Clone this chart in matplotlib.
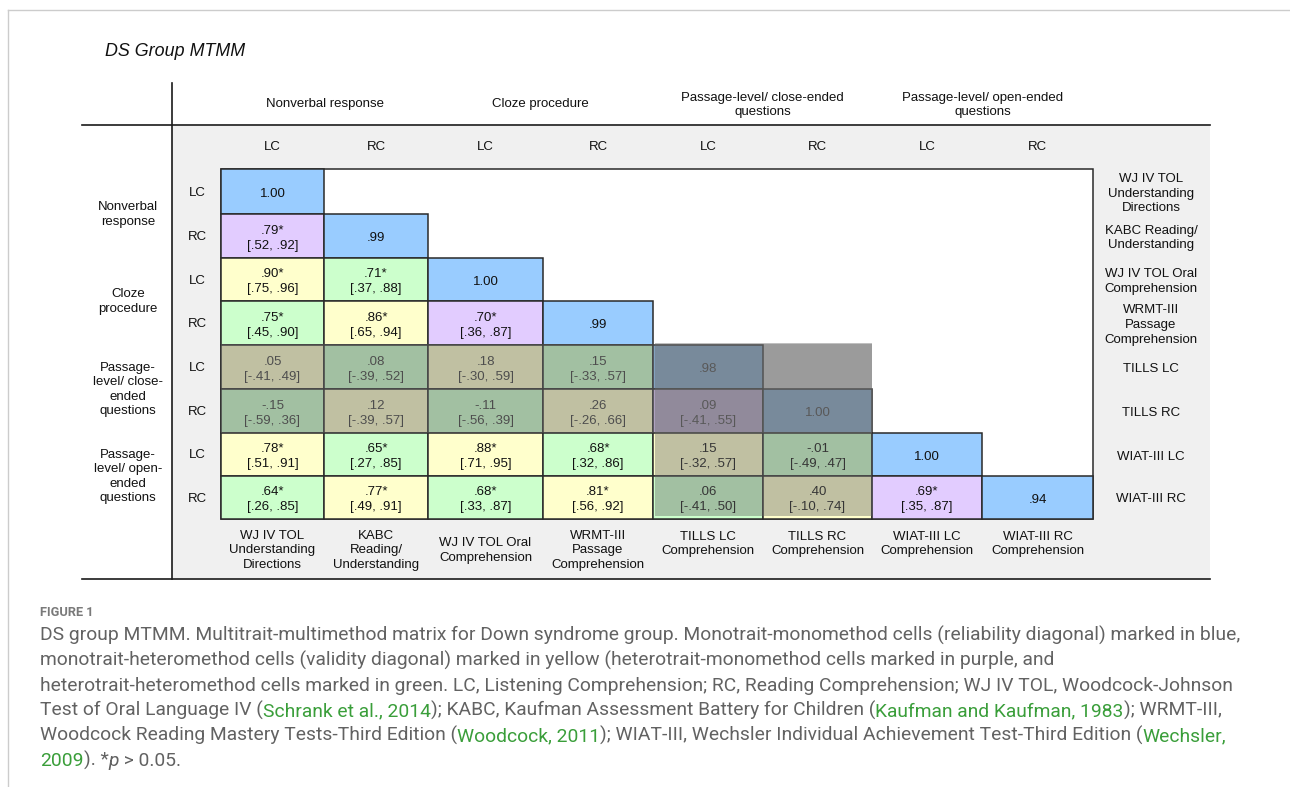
import matplotlib
matplotlib.use("Agg")
import matplotlib.pyplot as plt
from matplotlib.patches import Rectangle
from matplotlib import font_manager

# ---------------- data ----------------
measures_row = ["WJ IV TOL\nUnderstanding\nDirections", "KABC Reading/\nUnderstanding",
                "WJ IV TOL Oral\nComprehension", "WRMT-III\nPassage\nComprehension",
                "TILLS LC", "TILLS RC", "WIAT-III LC", "WIAT-III RC"]
measures_col = ["WJ IV TOL\nUnderstanding\nDirections", "KABC\nReading/\nUnderstanding",
                "WJ IV TOL Oral\nComprehension", "WRMT-III\nPassage\nComprehension",
                "TILLS LC\nComprehension", "TILLS RC\nComprehension",
                "WIAT-III LC\nComprehension", "WIAT-III RC\nComprehension"]
traits = ["LC", "RC", "LC", "RC", "LC", "RC", "LC", "RC"]
methods_col = ["Nonverbal response", "Cloze procedure",
               "Passage-level/ close-ended\nquestions", "Passage-level/ open-ended\nquestions"]
methods_row = ["Nonverbal\nresponse", "Cloze\nprocedure",
               "Passage-\nlevel/ close-\nended\nquestions", "Passage-\nlevel/ open-\nended\nquestions"]

r_values = [
    [1.00],
    [.79, .99],
    [.90, .71, 1.00],
    [.75, .86, .70, .99],
    [.05, .08, .18, .15, .98],
    [-.15, .12, -.11, .26, .09, 1.00],
    [.78, .65, .88, .68, .15, -.01, 1.00],
    [.64, .77, .68, .81, .06, .40, .69, .94],
]
ci_low = [
    [None],
    [.52, None],
    [.75, .37, None],
    [.45, .65, .36, None],
    [-.41, -.39, -.30, -.33, None],
    [-.59, -.39, -.56, -.26, -.41, None],
    [.51, .27, .71, .32, -.32, -.49, None],
    [.26, .49, .33, .56, -.41, -.10, .35, None],
]
ci_high = [
    [None],
    [.92, None],
    [.96, .88, None],
    [.90, .94, .87, None],
    [.49, .52, .59, .57, None],
    [.36, .57, .39, .66, .55, None],
    [.91, .85, .95, .86, .57, .47, None],
    [.85, .91, .87, .92, .50, .74, .87, None],
]
significant = [
    [False],
    [True, False],
    [True, True, False],
    [True, True, True, False],
    [False, False, False, False, False],
    [False, False, False, False, False, False],
    [True, True, True, True, False, False, False],
    [True, True, True, True, False, False, True, False],
]
# B = monotrait-monomethod, Y = monotrait-heteromethod, P = heterotrait-monomethod, G = heterotrait-heteromethod
cell_types = [
    "B",
    "PB",
    "YGB",
    "GYPB",
    "YGYGB",
    "GYGYPB",
    "YGYGYGB",
    "GYGYGYPB",
]

# ---------------- styles / layout ----------------
type_colors = {"B": "#99CCFF", "Y": "#FFFFCC", "P": "#E2CCFF", "G": "#CCFFCC"}
bg_gray = "#F0F0F0"
edge = "#2a2a2a"
col_edges = [221, 324, 428, 543, 653, 763, 872, 982, 1093]
row_edges = [169, 214, 258, 301, 345, 389, 433, 476, 519]
TABLE_FONT = "Liberation Sans"
FS = 9.5
GAP_LABEL = 14.6
GAP_CELL = 15.0
GAP_HEAD = 14.0

fig = plt.figure(figsize=(12.9, 7.87), dpi=100)
ax = fig.add_axes([0, 0, 1, 1])
ax.set_xlim(0, 1290)
ax.set_ylim(787, 0)
ax.axis("off")


def mtext(x, yc, s, gap, **kw):
    lines = s.split("\n")
    m = len(lines)
    for k, line in enumerate(lines):
        ax.text(x, yc + (k - (m - 1) / 2) * gap, line, ha="center", va="center",
                fontsize=FS, family=TABLE_FONT, **kw)


# page frame
ax.plot([8, 1290], [10, 10], color="#cccccc", lw=1.0)
ax.plot([8, 8], [10, 787], color="#cccccc", lw=1.0)

# title
ax.text(105, 52, "DS Group MTMM", fontsize=12.9, fontstyle="italic",
        family=TABLE_FONT, va="center", ha="left", color="#111111")

# gray panel
ax.add_patch(Rectangle((172, 126), 1210 - 172, 578 - 126, facecolor=bg_gray,
                       edgecolor="none", zorder=0))
# frame lines
ax.plot([82, 1210], [125, 125], color="#1a1a1a", lw=1.2, zorder=5)
ax.plot([82, 1210], [579, 579], color="#1a1a1a", lw=1.2, zorder=5)
ax.plot([172, 172], [83, 579], color="#1a1a1a", lw=1.2, zorder=5)

n = len(traits)
col_centers = [(col_edges[i] + col_edges[i + 1]) / 2 for i in range(n)]
row_centers = [(row_edges[i] + row_edges[i + 1]) / 2 for i in range(n)]

# method headers
for k, lab in enumerate(methods_col):
    xc = (col_edges[2 * k] + col_edges[2 * k + 2]) / 2
    mtext(xc, 104.5, lab, GAP_HEAD, color="#111111")
for k, lab in enumerate(methods_row):
    mtext(128, row_edges[2 * k + 1] + 0.5, lab, GAP_LABEL, color="#111111")
# trait labels
for i, t in enumerate(traits):
    mtext(col_centers[i], 147.5, t, GAP_LABEL, color="#111111")
    mtext(197, row_centers[i] + 1, t, GAP_LABEL, color="#111111")
# measure labels
for i, lab in enumerate(measures_row):
    mtext(1151, row_centers[i] + 2, lab, GAP_LABEL, color="#111111")
for i, lab in enumerate(measures_col):
    yb = 550.5 if i < 4 else 544
    mtext(col_centers[i], yb, lab, GAP_LABEL, color="#111111")

# white matrix area
ax.add_patch(Rectangle((col_edges[0], row_edges[0]), col_edges[-1] - col_edges[0],
                       row_edges[-1] - row_edges[0], facecolor="white",
                       edgecolor=edge, lw=1.1, zorder=1))


def fmt(v):
    s = f"{abs(v):.2f}"
    if s.startswith("0"):
        s = s[1:]
    return ("-" if v < 0 else "") + s


for i in range(n):
    for j in range(i + 1):
        x0, x1 = col_edges[j], col_edges[j + 1]
        y0, y1 = row_edges[i], row_edges[i + 1]
        ax.add_patch(Rectangle((x0, y0), x1 - x0, y1 - y0,
                               facecolor=type_colors[cell_types[i][j]],
                               edgecolor=edge, lw=1.1, zorder=2))
        txt = fmt(r_values[i][j]) + ("*" if significant[i][j] else "")
        if ci_low[i][j] is not None:
            txt += f"\n[{fmt(ci_low[i][j])}, {fmt(ci_high[i][j])}]"
        tcol = "#3a3a3a" if i in (4, 5) else "#111111"
        mtext((x0 + x1) / 2, (y0 + y1) / 2 + 2.2, txt, GAP_CELL, color=tcol, zorder=3)

# gray overlays marking TILLS rows / columns
ov = "#696969"
ax.add_patch(Rectangle((col_edges[0], row_edges[4] - 1), col_edges[6] - col_edges[0],
                       row_edges[6] - row_edges[4] + 1, facecolor=ov, alpha=0.42,
                       edgecolor="none", zorder=4))
ax.add_patch(Rectangle((col_edges[4] + 2, row_edges[4] - 2), col_edges[6] - col_edges[4] - 2,
                       row_edges[8] - row_edges[4] - 1, facecolor=ov, alpha=0.42,
                       edgecolor="none", zorder=4))

# ---------------- caption ----------------
names = {f.name for f in font_manager.fontManager.ttflist}
CAP_FONT = "Liberation Sans Narrow" if "Liberation Sans Narrow" in names else "Roboto"
cap_gray = "#626262"
link = "#3a9e3a"

ax.text(40, 612, "FIGURE 1", fontsize=9.2, family=CAP_FONT, fontweight="bold",
        color="#7a7a7a", va="center", ha="left")

caption_lines = [
    [("DS group MTMM. Multitrait-multimethod matrix for Down syndrome group. Monotrait-monomethod cells (reliability diagonal) marked in blue,", cap_gray, "normal")],
    [("monotrait-heteromethod cells (validity diagonal) marked in yellow (heterotrait-monomethod cells marked in purple, and", cap_gray, "normal")],
    [("heterotrait-heteromethod cells marked in green. LC, Listening Comprehension; RC, Reading Comprehension; WJ IV TOL, Woodcock-Johnson", cap_gray, "normal")],
    [("Test of Oral Language IV (", cap_gray, "normal"), ("Schrank et al., 2014", link, "normal"),
     ("); KABC, Kaufman Assessment Battery for Children (", cap_gray, "normal"),
     ("Kaufman and Kaufman, 1983", link, "normal"), ("); WRMT-III,", cap_gray, "normal")],
    [("Woodcock Reading Mastery Tests-Third Edition (", cap_gray, "normal"), ("Woodcock, 2011", link, "normal"),
     ("); WIAT-III, Wechsler Individual Achievement Test-Third Edition (", cap_gray, "normal"),
     ("Wechsler,", link, "normal")],
    [("2009", link, "normal"), ("). *", cap_gray, "normal"), ("p", cap_gray, "italic"),
     (" > 0.05.", cap_gray, "normal")],
]
caption_y = [641, 666, 691, 716, 741, 766]

fig.canvas.draw()
renderer = fig.canvas.get_renderer()
probe = ax.text(40, 641, caption_lines[0][0][0], fontsize=14, family=CAP_FONT)
w = probe.get_window_extent(renderer).width
probe.remove()
cap_fs = 14 * (1208 / w)

for segs, yb in zip(caption_lines, caption_y):
    x = 40
    for s, c, st in segs:
        t = ax.text(x, yb, s, fontsize=cap_fs, family=CAP_FONT, color=c, fontstyle=st,
                    va="baseline", ha="left")
        x += t.get_window_extent(renderer).width

fig.savefig("out.png", dpi=100, facecolor="white")
